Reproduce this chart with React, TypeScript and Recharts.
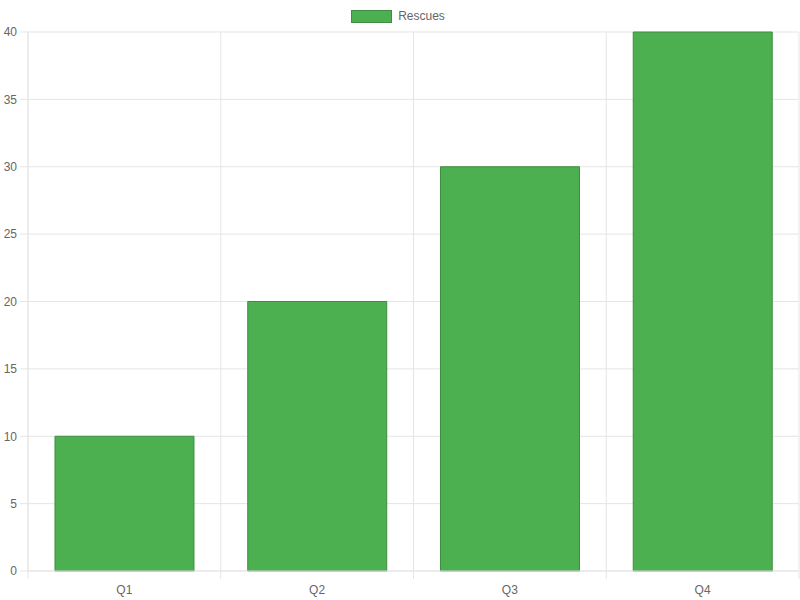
import { BarChart, Bar, XAxis, YAxis, CartesianGrid, Legend } from 'recharts';

const quarters = ['Q1', 'Q2', 'Q3', 'Q4'];
const rescues = [10, 20, 30, 40];
const yTicks = [0, 5, 10, 15, 20, 25, 30, 35, 40];

const data = quarters.map((q, i) => ({ quarter: q, rescues: rescues[i] }));

const FONT = '"Liberation Sans", Arial, Helvetica, sans-serif';
const GRID = '#e5e5e5';
const TEXT = '#666';
const FILL = '#4caf50';
const EDGE = '#3e8e41';

function QuarterTick(props: any) {
	const { x, y, payload, index, visibleTicksCount, width } = props;
	const half = width / visibleTicksCount / 2;
	const top = y - 14;
	return (
		<g>
			<line x1={x - half} y1={top} x2={x - half} y2={top + 8} stroke={GRID} />
			{index === visibleTicksCount - 1 && (
				<line x1={x + half} y1={top} x2={x + half} y2={top + 8} stroke={GRID} />
			)}
			<text x={x} y={y} dy="0.71em" textAnchor="middle" fill={TEXT} fontSize={12} fontFamily={FONT}>
				{payload.value}
			</text>
		</g>
	);
}

function ValueTick(props: any) {
	const { x, y, payload } = props;
	return (
		<text x={x} y={y} dy="0.355em" textAnchor="end" fill={TEXT} fontSize={12} fontFamily={FONT}>
			{payload.value}
		</text>
	);
}

function LegendBox() {
	return (
		<div style={{ display: 'flex', justifyContent: 'center', alignItems: 'center', fontFamily: FONT, fontSize: 12, color: TEXT }}>
			<span style={{ display: 'inline-block', width: 41, height: 13, boxSizing: 'border-box', background: FILL, border: `1px solid ${EDGE}`, marginRight: 6 }} />
			<span>Rescues</span>
		</div>
	);
}

export default function App() {
	return (
		<div style={{ position: 'absolute', left: 0, top: 0, width: 800, height: 600, background: '#fff' }}>
			<BarChart width={800} height={600} data={data} margin={{ top: 32, right: 1, bottom: 0, left: 0 }} barCategoryGap="14%">
				<CartesianGrid
					stroke={GRID}
					verticalCoordinatesGenerator={({ offset }: any) =>
						quarters.map((_, i) => offset.left + (i * offset.width) / quarters.length).concat(offset.left + offset.width)
					}
				/>
				<XAxis
					dataKey="quarter"
					height={29}
					tickLine={false}
					tickSize={8}
					tickMargin={6}
					axisLine={{ stroke: GRID }}
					tick={<QuarterTick />}
					interval={0}
				/>
				<YAxis
					width={28}
					domain={[0, 40]}
					ticks={yTicks}
					tickSize={8}
					tickMargin={3}
					tickLine={{ stroke: GRID }}
					axisLine={{ stroke: GRID }}
					tick={<ValueTick />}
				/>
				<Legend verticalAlign="middle" align="center" wrapperStyle={{ top: 9, left: -2, width: 800 }} content={<LegendBox />} />
				<Bar dataKey="rescues" name="Rescues" fill={FILL} stroke={EDGE} strokeWidth={1} isAnimationActive={false} />
			</BarChart>
		</div>
	);
}
